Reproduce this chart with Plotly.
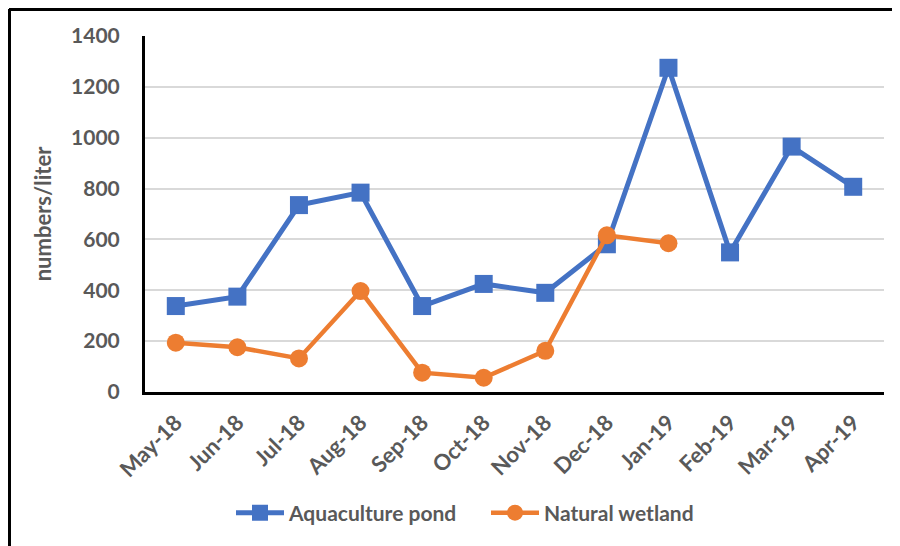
import plotly.graph_objects as go

# Data
months = ['May-18', 'Jun-18', 'Jul-18', 'Aug-18', 'Sep-18', 'Oct-18',
          'Nov-18', 'Dec-18', 'Jan-19', 'Feb-19', 'Mar-19', 'Apr-19']
aquaculture_pond = [338, 375, 735, 784, 338, 425, 390, 581, 1275, 549, 965, 807]
natural_wetland = [194, 176, 132, 397, 76, 56, 162, 616, 585]

y_ticks = [0, 200, 400, 600, 800, 1000, 1200, 1400]

grey = '#595959'
font_family = 'Lato, Open Sans, sans-serif'

fig = go.Figure()

fig.add_trace(go.Scatter(
    x=months, y=aquaculture_pond, name='Aquaculture pond',
    mode='lines+markers',
    line=dict(color='#4472C4', width=5),
    marker=dict(symbol='square', size=18, color='#4472C4'),
))

fig.add_trace(go.Scatter(
    x=months[:len(natural_wetland)], y=natural_wetland, name='Natural wetland',
    mode='lines+markers',
    line=dict(color='#ED7D31', width=4.5),
    marker=dict(symbol='circle', size=18, color='#ED7D31'),
))

# page body adds an 8px offset, so work in screen pixels minus that
OFF = 8
L, T, W, H = 145 - OFF, 36 - OFF, 739, 356


def px_x(p):
    return (p - OFF - L) / W


def px_y(p):
    return (T + H - (p - OFF)) / H


# Outer frame (only top and left edges are visible in the reference)
fig.add_shape(type='line', xref='paper', yref='paper',
              x0=px_x(9), x1=px_x(910), y0=px_y(9), y1=px_y(9),
              line=dict(color='black', width=4))
fig.add_shape(type='line', xref='paper', yref='paper',
              x0=px_x(9), x1=px_x(9), y0=px_y(9), y1=px_y(560),
              line=dict(color='black', width=4))

fig.update_layout(
    width=900, height=546,
    margin=dict(l=L, r=900 - L - W, t=T, b=546 - T - H, autoexpand=False),
    plot_bgcolor='white', paper_bgcolor='white',
    font=dict(family=font_family, size=21, color=grey, weight='bold'),
    showlegend=True,
    legend=dict(orientation='h', x=px_x(231), xanchor='left',
                y=px_y(513), yanchor='middle',
                font=dict(size=21, color=grey, weight='bold'),
                itemwidth=48, tracegroupgap=0,
                entrywidth=192, entrywidthmode='pixels'),
    xaxis=dict(
        type='category', range=[-0.5, 11.5], automargin=False,
        tickangle=-45, showgrid=False,
        showline=True, linecolor='black', linewidth=3,
        ticks='', ticklabelstandoff=6,
        tickfont=dict(size=22, color=grey, weight='bold'),
    ),
    yaxis=dict(
        range=[0, 1400], tickvals=y_ticks, automargin=False,
        showgrid=True, gridcolor='#D9D9D9', gridwidth=1.5,
        showline=True, linecolor='black', linewidth=3,
        zeroline=False, ticks='', ticklabelstandoff=18,
        tickfont=dict(size=21, color=grey, weight='bold'),
        title=dict(text='numbers/liter', standoff=14,
                   font=dict(size=22, color=grey, weight='bold')),
    ),
)

fig.write_html('out.html')
